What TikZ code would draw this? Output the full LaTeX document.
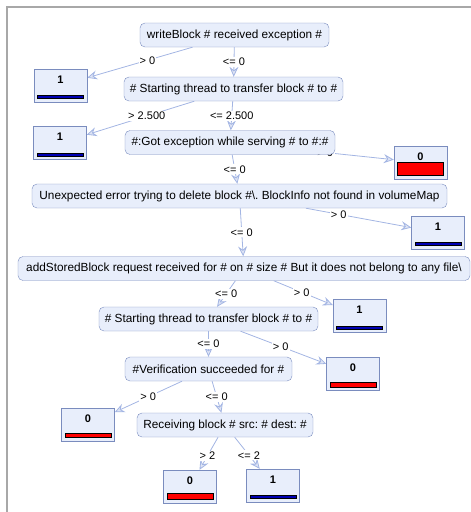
\documentclass[tikz,border=0pt]{standalone}
\usepackage{fontspec}
\setmainfont{Liberation Sans}
\usepackage{tikz}
\usetikzlibrary{arrows.meta,calc}
\definecolor{nodefill}{HTML}{E8EEFB}
\definecolor{nodeline}{HTML}{7A8CBE}
\definecolor{edgecol}{HTML}{A3B5E3}
\definecolor{framecol}{HTML}{A8A8A8}
\definecolor{barblue}{HTML}{0000B4}
\pgfdeclarelayer{background}
\pgfsetlayers{background,main}
\frenchspacing

\begin{document}
\begin{tikzpicture}[x=1pt,y=-1pt,
    split/.style={draw=nodeline,fill=nodefill,rounded corners=5pt,minimum height=24pt,
      inner xsep=3pt,font=\fontsize{11.8}{13}\selectfont},
    leaf/.style 2 args={draw=nodeline,fill=nodefill,minimum width=53pt,inner xsep=0pt,
      inner ysep=3.25pt,text height=11pt,text depth=15.5pt,font=\fontsize{11}{13}\selectfont\bfseries,
      path picture={\draw[draw=black,fill=#1]
        ([xshift=3.5pt,yshift=3.5pt]path picture bounding box.south west) rectangle
        ([xshift=-3.5pt,yshift=3.5pt+#2]path picture bounding box.south east);}},
    cut/.style={draw=edgecol,line width=0.8pt,
      -{Stealth[length=10pt,width=9pt,inset=3.5pt,fill=edgecol!35]}},
    cutlabel/.style={fill=white,inner sep=1pt,font=\fontsize{11}{13}\selectfont}]
    \useasboundingbox (0,0) rectangle (471,512);
    \draw[framecol,line width=2.2pt] (7,512) -- (7,7) -- (471,7);

    \path
    (234.5,35) node[split,minimum width=189pt] (wb) {writeBlock \# received exception \#}
    (233.5,89) node[split,minimum width=219pt] (st1) {\# Starting thread to transfer block \# to \#}
    (230,142.5) node[split,minimum width=210pt] (ge) {\#:Got exception while serving \# to \#:\#}
    (239.5,196) node[split,minimum width=415pt] (ue) {Unexpected error trying to delete block \#\textbackslash. BlockInfo not found in volumeMap}
    (244,268.5) node[split,minimum width=452pt] (asb) {addStoredBlock request received for \# on \# size \# But it does not belong to any file\textbackslash}
    (208.5,319) node[split,minimum width=219pt] (st2) {\# Starting thread to transfer block \# to \#}
    (208.5,369) node[split,minimum width=167pt] (vs) {\#Verification succeeded for \#}
    (225,425) node[split,minimum width=176pt] (rb) {Receiving block \# src: \# dest: \#}
    ;

    \path
    (60.5,85.5) node[leaf={barblue}{3pt}] (l1) {1}
    (60,143) node[leaf={barblue}{3pt}] (l2) {1}
    (420.5,162.5) node[leaf={red}{13pt}] (l3) {0}
    (438,232.5) node[leaf={barblue}{3pt}] (l4) {1}
    (359.5,316) node[leaf={barblue}{3pt}] (l5) {1}
    (353,374) node[leaf={red}{5pt}] (l6) {0}
    (88,424.5) node[leaf={red}{4pt}] (l7) {0}
    (190,486.5) node[leaf={red}{6pt}] (l8) {0}
    (273,485.5) node[leaf={barblue}{3pt}] (l9) {1}
    ;

    \begin{pgfonlayer}{background}
    \draw[cut] (wb) -- (l1);
    \draw[cut] (wb) -- (st1);
    \draw[cut] (st1) -- (l2);
    \draw[cut] (st1) -- (ge);
    \draw[cut] (ge) -- (l3);
    \draw[cut] (ge) -- (ue);
    \draw[cut] (ue) -- (l4);
    \draw[cut] (ue) -- (asb);
    \draw[cut] (asb) -- (l5);
    \draw[cut] (asb) -- (st2);
    \draw[cut] (st2) -- (l6);
    \draw[cut] (st2) -- (vs);
    \draw[cut] (vs) -- (l7);
    \draw[cut] (vs) -- (rb);
    \draw[cut] (rb) -- (l8);
    \draw[cut] (rb) -- (l9);

    \path
    ($(wb)!.5!(l1)$) node[cutlabel] (wbl1) {> 0}
    ($(wb)!.5!(st1)$) node[cutlabel] (wbst1) {<= 0}
    ($(st1)!.5!(l2)$) node[cutlabel] (st1l2) {> 2.500}
    ($(st1)!.5!(ge)$) node[cutlabel] (st1ge) {<= 2.500}
    ($(ge)!.5!(l3)$) node[cutlabel] (gel3) {> 0}
    ($(ge)!.5!(ue)$) node[cutlabel] (geue) {<= 0}
    ($(ue)!.5!(l4)$) node[cutlabel] (uel4) {> 0}
    ($(ue)!.5!(asb)$) node[cutlabel] (ueasb) {<= 0}
    ($(asb)!.5!(l5)$) node[cutlabel] (asbl5) {> 0}
    ($(asb)!.5!(st2)$) node[cutlabel] (asbst2) {<= 0}
    ($(st2)!.5!(l6)$) node[cutlabel] (st2l6) {> 0}
    ($(st2)!.5!(vs)$) node[cutlabel] (st2vs) {<= 0}
    ($(vs)!.5!(l7)$) node[cutlabel] (vsl7) {> 0}
    ($(vs)!.5!(rb)$) node[cutlabel] (vsrb) {<= 0}
    ($(rb)!.5!(l8)$) node[cutlabel] (rbl8) {> 2}
    ($(rb)!.5!(l9)$) node[cutlabel] (rbl9) {<= 2}
    ;
    \end{pgfonlayer}
\end{tikzpicture}
\end{document}
